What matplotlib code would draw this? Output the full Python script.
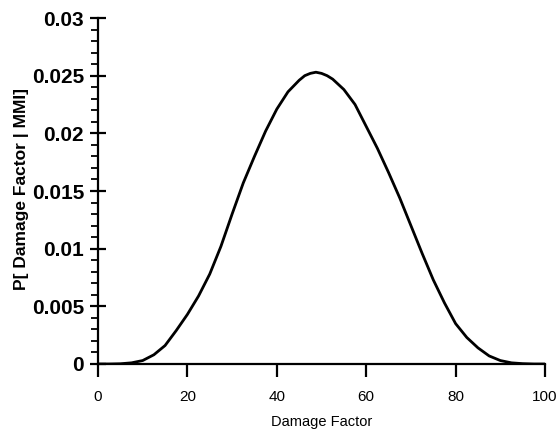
import matplotlib.pyplot as plt
from matplotlib.ticker import MultipleLocator

# Values
damage_factor = [0, 2.5, 5, 7.5, 10, 12.5, 15, 17.5, 20, 22.5, 25, 27.5, 30, 32.5, 35, 37.5,
                 40, 42.5, 45, 46.25, 47.5, 48.75, 50, 51.25, 52.5, 55, 57.5, 60, 62.5, 65,
                 67.5, 70, 72.5, 75, 77.5, 80, 82.5, 85, 87.5, 90, 92.5, 95, 97.5, 100]
probability = [0, 0, 0.00002, 0.0001, 0.0003, 0.0008, 0.0016, 0.0029, 0.0043, 0.0059, 0.0078,
               0.0102, 0.0130, 0.0157, 0.0180, 0.0202, 0.0221, 0.0236, 0.0246, 0.0250, 0.0252,
               0.0253, 0.0252, 0.0250, 0.0247, 0.0238, 0.0225, 0.0206, 0.0187, 0.0166,
               0.0144, 0.0120, 0.0096, 0.0073, 0.0053, 0.0035, 0.0023, 0.0014, 0.0007,
               0.0003, 0.0001, 0.00003, 0, 0]

x_ticks = [0, 20, 40, 60, 80, 100]
y_ticks = [0, 0.005, 0.01, 0.015, 0.02, 0.025, 0.03]
y_labels = ["0", "0.005", "0.01", "0.015", "0.02", "0.025", "0.03"]

plt.rcParams['font.family'] = ['Liberation Sans', 'DejaVu Sans']

fig = plt.figure(figsize=(5.59, 4.34), dpi=100)
ax = fig.add_axes([0.1753, 0.1613, 0.7997, 0.7972])

ax.plot(damage_factor, probability, color='black', lw=2.0, solid_joinstyle='round')

ax.set_xlim(0, 100)
ax.set_ylim(0, 0.03)

for side in ['top', 'right']:
    ax.spines[side].set_visible(False)
for side in ['left', 'bottom']:
    ax.spines[side].set_linewidth(1.6)

ax.set_xticks(x_ticks)
ax.set_xticklabels([str(t) for t in x_ticks], fontsize=11)
ax.set_yticks(y_ticks)
ax.set_yticklabels(y_labels, fontsize=15, fontweight='bold')
ax.yaxis.set_minor_locator(MultipleLocator(0.001))

ax.tick_params(axis='x', direction='out', length=9, width=1.6, pad=10)
ax.tick_params(axis='y', which='major', direction='inout', length=12, width=1.6, pad=4)
ax.tick_params(axis='y', which='minor', direction='out', length=5, width=1.3)

ax.set_xlabel("Damage Factor", fontsize=10.5, labelpad=8)
ax.set_ylabel("P[ Damage Factor | MMI]", fontsize=12.5, fontweight='bold')
ax.yaxis.set_label_coords(-0.155, 0.506)

fig.savefig("out.png", dpi=100)
